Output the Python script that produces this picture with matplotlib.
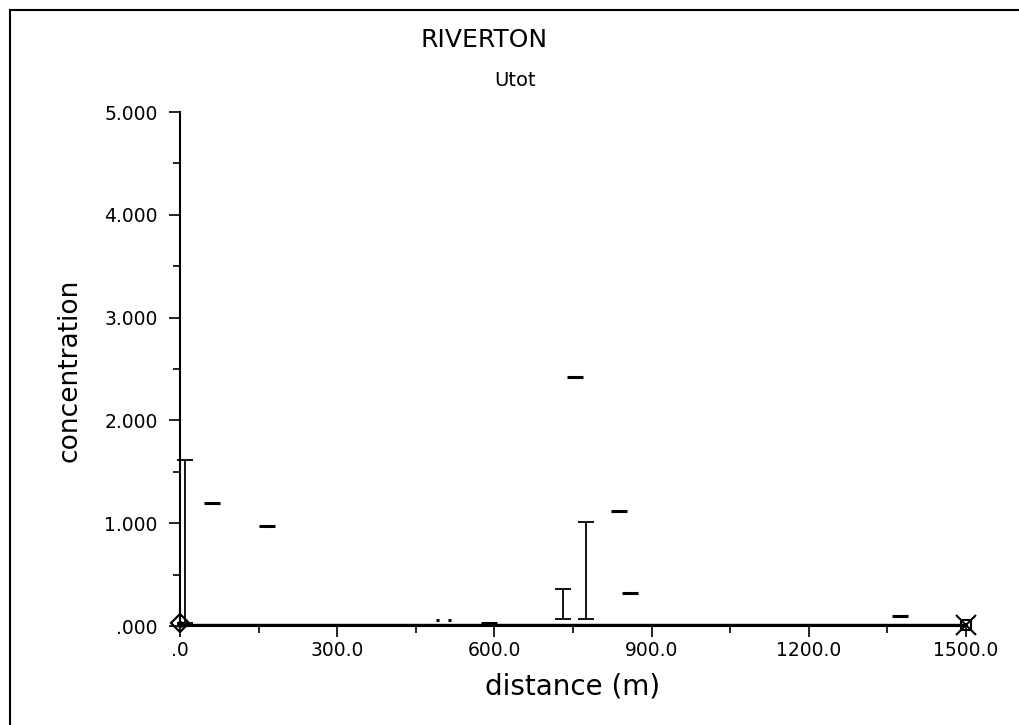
import matplotlib
matplotlib.use('Agg')
import matplotlib.pyplot as plt
from matplotlib.lines import Line2D

# --- data ---
# short horizontal marks (single values)
dash_x = [61, 166, 490, 514, 590, 754, 838, 859, 1374]
dash_y = [1.20, 0.97, 0.06, 0.06, 0.03, 2.42, 1.12, 0.32, 0.10]
dash_size = [16, 16, 3, 3, 16, 16, 16, 16, 16]

# range bars (low / high)
bar_x = [10, 731, 775]
bar_lo = [0.03, 0.07, 0.07]
bar_hi = [1.61, 0.36, 1.01]

# end markers
start_x, start_y = 0, 0.03
end_x, end_y = 1500, 0.01

x_ticks = [0, 300, 600, 900, 1200, 1500]
x_labels = ['.0', '300.0', '600.0', '900.0', '1200.0', '1500.0']
y_ticks = [0, 1, 2, 3, 4, 5]
y_labels = ['.000', '1.000', '2.000', '3.000', '4.000', '5.000']

plt.rcParams['font.family'] = ['DejaVu Sans']

fig = plt.figure(figsize=(10.19, 7.25), dpi=100)
ax = fig.add_axes([180 / 1019, 1 - 626 / 725, (966 - 180) / 1019, (626 - 112) / 725])

# page frame (top and left edges visible)
fig.add_artist(Line2D([10 / 1019, 10 / 1019], [0, 1 - 10 / 725], color='black', lw=1.5))
fig.add_artist(Line2D([10 / 1019, 1], [1 - 10 / 725, 1 - 10 / 725], color='black', lw=1.5))

for x, y, s in zip(dash_x, dash_y, dash_size):
    ax.plot([x], [y], marker='_', markersize=s * 0.72, mew=2.2, color='black', clip_on=False)

for x, lo, hi in zip(bar_x, bar_lo, bar_hi):
    ax.errorbar([x], [(lo + hi) / 2], yerr=[[(hi - lo) / 2]], fmt='none', ecolor='black',
                elinewidth=1.3, capsize=6, capthick=1.3, clip_on=False)

ax.plot([start_x], [start_y], marker='D', markersize=9, mfc='none', mec='black', mew=1.6, clip_on=False)
ax.plot([start_x], [start_y - 0.01], marker='o', markersize=4, color='black', clip_on=False)
ax.plot([end_x], [end_y], marker='s', markersize=7, mfc='none', mec='black', mew=1.5, clip_on=False)
ax.plot([end_x], [end_y], marker='x', markersize=14, mec='black', mew=1.5, clip_on=False)
ax.plot([start_x, end_x], [0.015, 0.015], color='black', lw=1.0, clip_on=False)

ax.set_xlim(0, 1500)
ax.set_ylim(0, 5)
ax.set_xticks(x_ticks)
ax.set_xticklabels(x_labels)
ax.set_yticks(y_ticks)
ax.set_yticklabels(y_labels)
ax.set_xticks(range(150, 1500, 300), minor=True)
ax.set_yticks([0.5, 1.5, 2.5, 3.5, 4.5], minor=True)
ax.tick_params(axis='both', which='major', length=8, width=1.2, labelsize=13.5, direction='out')
ax.tick_params(axis='both', which='minor', length=5, width=1.2, direction='out')
ax.tick_params(axis='y', which='major', pad=8)
ax.tick_params(axis='x', which='major', pad=3)

for side in ['top', 'right']:
    ax.spines[side].set_visible(False)
for side in ['left', 'bottom']:
    ax.spines[side].set_linewidth(1.5)

fig.text(484 / 1019, 1 - 40 / 725, 'RIVERTON', ha='center', va='center', fontsize=18)
fig.text(515 / 1019, 1 - 80 / 725, 'Utot', ha='center', va='center', fontsize=14)
fig.text(573 / 1019, 1 - 686 / 725, 'distance (m)', ha='center', va='center', fontsize=20)
fig.text(70 / 1019, 1 - 370 / 725, 'concentration', ha='center', va='center', rotation=90, fontsize=19)

fig.savefig('out.png', dpi=100)
